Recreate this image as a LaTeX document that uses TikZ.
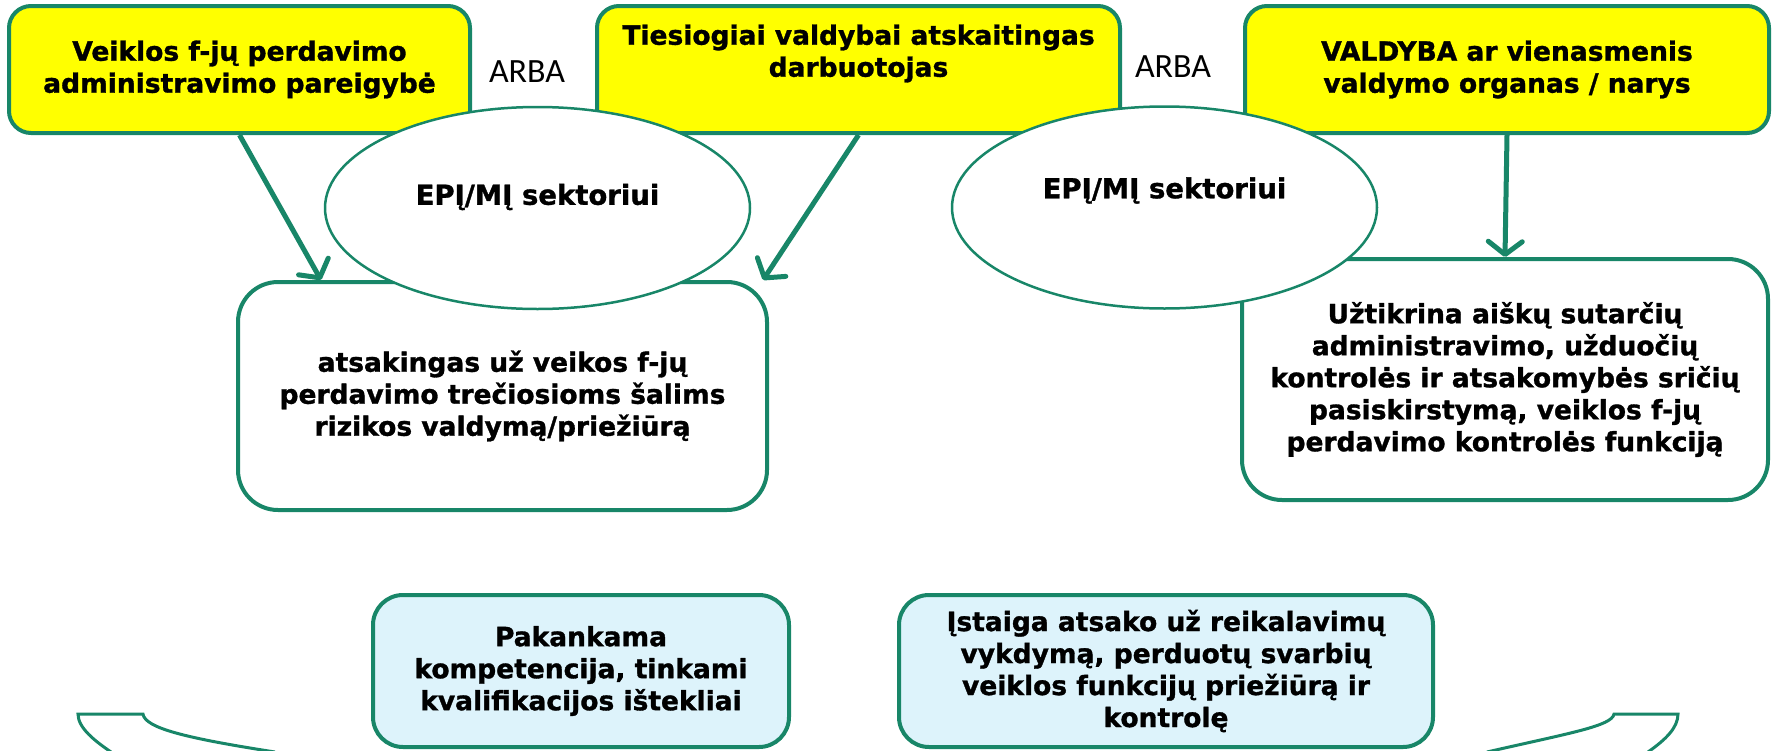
\documentclass[tikz,border=0pt]{standalone}
\usepackage{fontspec}
\setmainfont{DejaVu Sans}[BoldFeatures={FakeBold=1.2}]
\newfontfamily\arbafont{Carlito}
\usetikzlibrary{shapes.geometric,arrows.meta,calc}
\definecolor{rimgreen}{RGB}{24,134,104}
\definecolor{paleblue}{RGB}{221,243,251}
\definecolor{roleyellow}{RGB}{255,255,0}

\begin{document}
\begin{tikzpicture}[x=1pt,y=-1pt,
    role/.style={draw=rimgreen,line width=4pt,rounded corners=22pt,fill=roleyellow,align=center,inner sep=0pt,
      font=\fontsize{26.5}{32}\selectfont\bfseries},
    duty/.style={role,fill=white,rounded corners=40pt},
    need/.style={role,fill=paleblue,rounded corners=30pt},
    sector/.style={ellipse,draw=rimgreen,line width=2.5pt,fill=white,inner sep=0pt,
      minimum width=425pt,minimum height=202pt},
    sectortext/.style={font=\fontsize{27.5}{32}\selectfont\bfseries},
    link/.style={draw=rimgreen,line width=5pt,-{Straight Barb[length=13pt,width=34pt,round]}},
    arba/.style={font=\arbafont\fontsize{34}{40}\selectfont}]
      \useasboundingbox (0,0) rectangle (1773,750);
      \node[role,minimum width=461pt,minimum height=127pt] (veikla) at (239.5,69.5)
        {Veiklos f-jų perdavimo\\administravimo pareigybė};
      \node[role,minimum width=523pt,minimum height=127pt,
        label={[role,draw=none,fill=none,yshift=16pt]center:{Tiesiogiai valdybai atskaitingas\\darbuotojas}}]
        (darbuotojas) at (858.5,69.5) {};
      \node[role,minimum width=524pt,minimum height=127pt] (valdyba) at (1507,69.5)
        {VALDYBA ar vienasmenis\\valdymo organas / narys};
      \node[arba] (arba1) at (527,72) {ARBA};
      \node[arba] (arba2) at (1173,67) {ARBA};
      \node[duty,minimum width=529pt,minimum height=228pt] (rizika) at (502.5,396)
        {atsakingas už veikos f-jų\\perdavimo trečiosioms šalims\\rizikos valdymą/priežiūrą};
      \node[duty,minimum width=526pt,minimum height=241pt] (kontrole) at (1505,379.5)
        {Užtikrina aiškų sutarčių\\administravimo, užduočių\\kontrolės ir atsakomybės sričių\\pasiskirstymą, veiklos f-jų\\perdavimo kontrolės funkciją};
      \node[sector,label={[sectortext,yshift=11pt]center:EPĮ/MĮ sektoriui}] (sektorius1) at (537.5,208) {};
      \node[sector,label={[sectortext,yshift=17pt]center:EPĮ/MĮ sektoriui}] (sektorius2) at (1164.5,207.5) {};
      \node[need,minimum width=416pt,minimum height=152pt] (kompetencija) at (581,671)
        {Pakankama\\kompetencija, tinkami\\kvalifikacijos ištekliai};
      \node[need,minimum width=534pt,minimum height=152pt] (istaiga) at (1166,671)
        {Įstaiga atsako už reikalavimų\\vykdymą, perduotų svarbių\\veiklos funkcijų priežiūrą ir\\kontrolę};
      \draw[link] (veikla.south) -- ($(rizika.north west)+(85,0)$);
      \draw[link] (darbuotojas.south) -- (rizika.24);
      \draw[link] (valdyba.south) -- (kontrole.north);
      \begin{scope}
        \clip (0,0) rectangle (1773,750);
        \draw[rimgreen,line width=3pt] (111,752) .. controls (95,741) and (78,728) .. (78,714) -- (143,714)
          .. controls (145,728) and (185,738) .. (275,752);
        \draw[rimgreen,line width=3pt] (1487,752) .. controls (1570,733) and (1612,726) .. (1614,714) -- (1678,714)
          .. controls (1678,728) and (1665,740) .. (1648,752);
      \end{scope}
    \end{tikzpicture}
\end{document}
